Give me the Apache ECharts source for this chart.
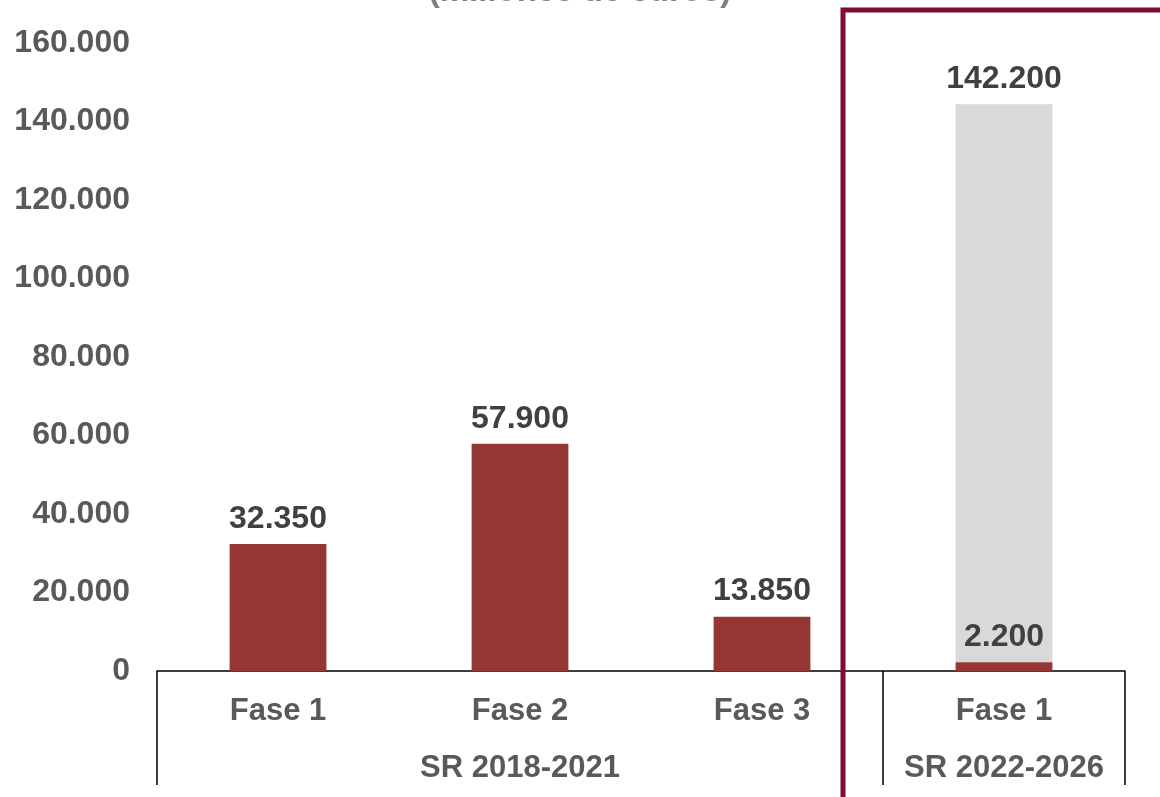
<!DOCTYPE html>
<html>
<head>
<meta charset="utf-8">
<script src="https://cdn.jsdelivr.net/npm/echarts@6/dist/echarts.min.js"></script>
<style>
  html, body { margin: 0; padding: 0; background: #fff; }
  #chart { width: 1160px; height: 797px; }
</style>
</head>
<body>
<div id="chart"></div>
<script>
// categories and groups
const phases = ['Fase 1', 'Fase 2', 'Fase 3', 'Fase 1'];
const groupLabels = ['', 'SR 2018-2021', '', 'SR 2022-2026'];
const groupStarts = [0, 3];
// values (euros)
const executed = [32350, 57900, 13850, 2200];
const pending = [null, null, null, 142200];

const fmt = v => String(v).replace(/\B(?=(\d{3})+(?!\d))/g, '.');

const chart = echarts.init(document.getElementById('chart'));
chart.setOption({
  animation: false,
  title: {
    text: '(millones de euros)',
    left: 'center',
    top: -30,
    textStyle: { fontFamily: 'Liberation Sans', fontSize: 33, fontWeight: 'bold', color: '#7f7f7f' }
  },
  grid: { left: 157, right: 35, top: 43, bottom: 126 },
  xAxis: [{
    type: 'category',
    data: phases,
    axisLine: { lineStyle: { color: '#000', width: 1.5 } },
    axisTick: { show: false },
    axisLabel: {
      interval: 0, margin: 25,
      fontFamily: 'Liberation Sans', fontSize: 31, fontWeight: 'bold', color: '#595959'
    }
  }, {
    type: 'category',
    data: groupLabels,
    position: 'bottom',
    axisLine: { show: false },
    axisTick: {
      show: true, length: 114,
      interval: i => groupStarts.includes(i),
      lineStyle: { color: '#000', width: 1.5 }
    },
    axisLabel: {
      interval: 0, margin: 82,
      fontFamily: 'Liberation Sans', fontSize: 31, fontWeight: 'bold', color: '#595959'
    }
  }],
  yAxis: {
    type: 'value',
    min: 0, max: 160000, interval: 20000,
    axisLine: { show: false },
    axisTick: { show: false },
    splitLine: { show: false },
    axisLabel: {
      margin: 27, formatter: fmt,
      fontFamily: 'Liberation Sans', fontSize: 32, fontWeight: 'bold', color: '#595959'
    }
  },
  series: [{
    type: 'bar',
    stack: 'total',
    data: executed,
    barWidth: '40%',
    itemStyle: { color: '#943634' },
    label: {
      show: true, position: 'top', distance: 9,
      formatter: p => fmt(p.value),
      fontFamily: 'Liberation Sans', fontSize: 32, fontWeight: 'bold', color: '#404040'
    }
  }, {
    type: 'bar',
    stack: 'total',
    data: pending,
    barWidth: '40%',
    itemStyle: { color: '#d9d9d9' },
    z: 1,
    label: {
      show: true, position: 'top', distance: 9,
      formatter: p => fmt(p.value),
      fontFamily: 'Liberation Sans', fontSize: 32, fontWeight: 'bold', color: '#404040'
    }
  }],
  graphic: [{
    type: 'rect',
    shape: { x: 843, y: 10, width: 500, height: 900 },
    style: { fill: 'none', stroke: '#800c2e', lineWidth: 5 },
    z: 100
  }]
});
</script>
</body>
</html>
